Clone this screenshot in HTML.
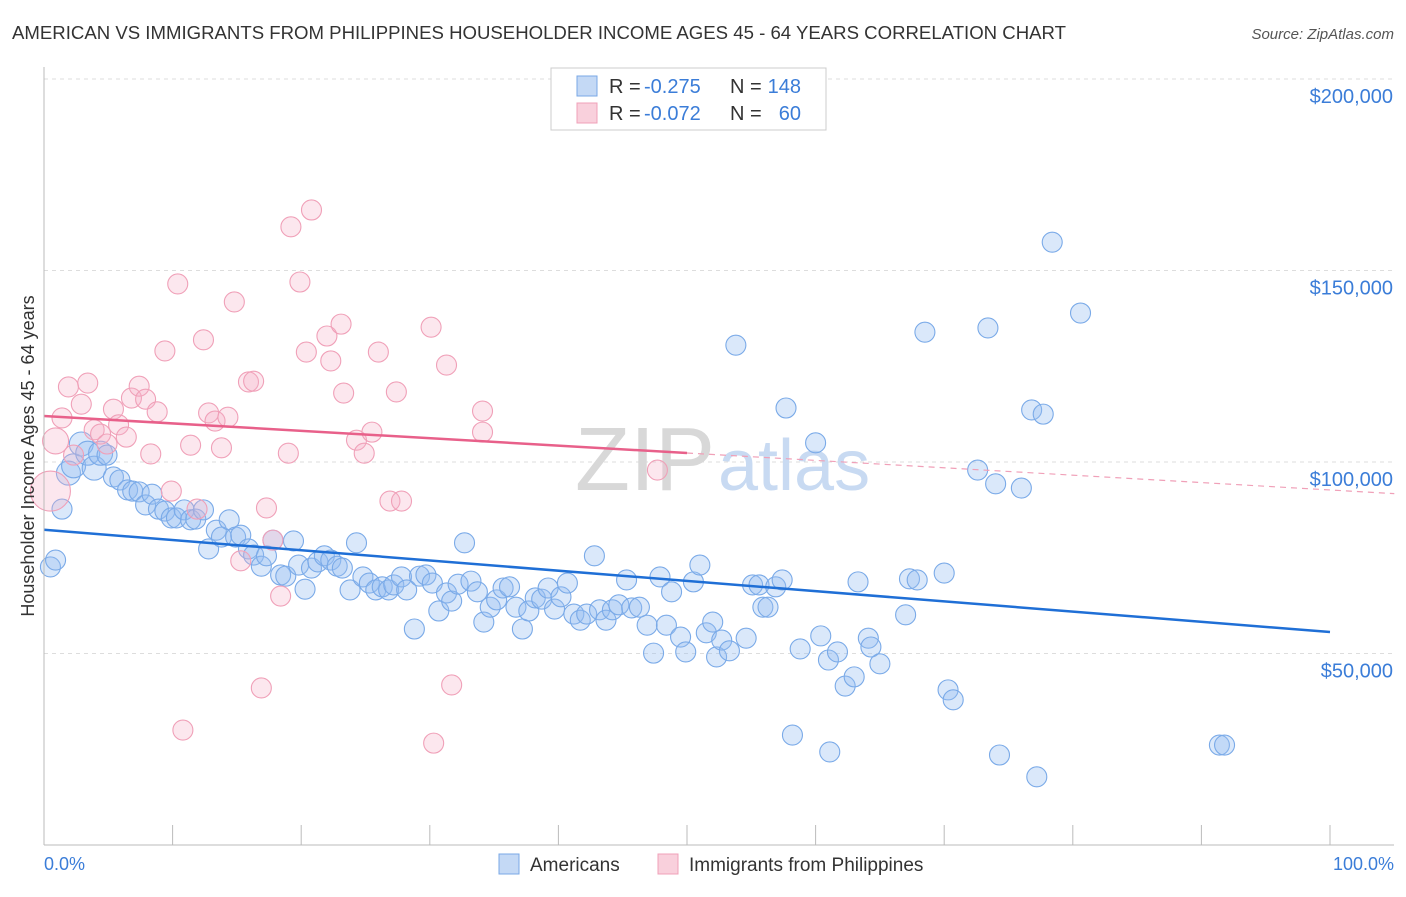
<!DOCTYPE html>
<html><head><meta charset="utf-8"><style>
body{margin:0;background:#fff;font-family:"Liberation Sans",sans-serif;}
svg text{font-family:"Liberation Sans",sans-serif;}
</style></head><body>
<svg id="chart" width="1406" height="892">
<text x="12" y="39" font-size="18" fill="#333" textLength="1054" lengthAdjust="spacingAndGlyphs">AMERICAN VS IMMIGRANTS FROM PHILIPPINES HOUSEHOLDER INCOME AGES 45 - 64 YEARS CORRELATION CHART</text>
<text x="1394" y="39" font-size="15" fill="#555" font-style="italic" text-anchor="end">Source: ZipAtlas.com</text>
<g id="grid"></g>
<text x="715" y="490" font-size="90" fill="#d8d8d8" text-anchor="end" font-family="Liberation Serif">ZIP</text>
<text x="718" y="490" font-size="72" fill="#c8daf2">atlas</text>
<g id="pts"></g>
<g id="lines"></g>
<line x1="44" y1="67" x2="44" y2="845" stroke="#bbb"/>
<line x1="44" y1="845" x2="1394" y2="845" stroke="#bbb"/>
<g id="xt"></g>
<text x="44" y="870" font-size="18" fill="#3b7dd8">0.0%</text>
<text x="1394" y="870" font-size="18" fill="#3b7dd8" text-anchor="end">100.0%</text>
<text transform="translate(34,456) rotate(-90)" font-size="18" fill="#333" text-anchor="middle">Householder Income Ages 45 - 64 years</text>
<g>
<rect x="551" y="68" width="275" height="62" fill="#fff" stroke="#ccc"/>
<rect x="577" y="76" width="20" height="20" fill="#c4d9f5" stroke="#7aa8e6"/>
<rect x="577" y="103" width="20" height="20" fill="#f9d0dc" stroke="#f0a0b8"/>
<text x="609" y="93" font-size="20" fill="#333">R =</text>
<text x="644" y="93" font-size="20" fill="#3b7dd8">-0.275</text>
<text x="730" y="93" font-size="20" fill="#333">N =</text>
<text x="801" y="93" font-size="20" fill="#3b7dd8" text-anchor="end">148</text>
<text x="609" y="120" font-size="20" fill="#333">R =</text>
<text x="644" y="120" font-size="20" fill="#3b7dd8">-0.072</text>
<text x="730" y="120" font-size="20" fill="#333">N =</text>
<text x="801" y="120" font-size="20" fill="#3b7dd8" text-anchor="end">60</text>
</g>
<rect x="499" y="854" width="20" height="20" fill="#c4d9f5" stroke="#7aa8e6"/>
<text x="530" y="871" font-size="19" fill="#333">Americans</text>
<rect x="658" y="854" width="20" height="20" fill="#f9d0dc" stroke="#f0a0b8"/>
<text x="689" y="871" font-size="19" fill="#333">Immigrants from Philippines</text>
</svg>
<script>
const yTicks=[50,100,150,200];
const yTickLabels=["$50,000","$100,000","$150,000","$200,000"];
const xTicks=[0,10,20,30,40,50,60,70,80,90,100];
const blueX=[0.5,0.9,1.4,1.9,2.3,2.9,3.4,3.9,4.4,4.9,5.4,5.9,6.5,6.9,7.4,7.9,8.4,8.9,9.4,9.9,10.3,10.9,11.4,11.8,12.4,12.8,13.4,13.8,14.4,14.9,15.3,15.9,16.3,16.9,17.3,17.8,18.4,18.8,19.4,19.8,20.3,20.8,21.3,21.8,22.3,22.8,23.2,23.8,24.3,24.8,25.3,25.8,26.3,26.8,27.2,27.8,28.2,28.8,29.2,29.7,30.2,30.7,31.3,31.7,32.2,32.7,33.2,33.7,34.2,34.7,35.2,35.7,36.2,36.7,37.2,37.7,38.2,38.7,39.2,39.7,40.2,40.7,41.2,41.7,42.2,42.8,43.2,43.7,44.2,44.7,45.3,45.7,46.3,46.9,47.4,47.9,48.4,48.8,49.5,49.9,50.5,51,51.5,52,52.3,52.7,53.3,53.8,54.6,55.1,55.6,55.9,56.3,56.9,57.4,57.7,58.2,58.8,60,60.4,61,61.1,61.7,62.3,63,63.3,64.1,64.3,65,67,67.3,67.9,68.5,70,70.3,70.7,72.6,73.4,74,74.3,76,76.8,77.2,77.7,78.4,80.6,91.4,91.8];
const blueY=[72.6,74.4,87.7,97.1,99,104.7,102.3,98.4,102.3,101.8,96.1,95.3,92.7,92.4,92.2,88.8,91.6,87.7,87.2,85.4,85.4,87.5,84.9,85.1,87.5,77.3,82.2,80.4,84.9,80.4,80.9,77.3,75.7,72.8,75.5,79.6,70.5,70.2,79.4,73.1,66.8,72.3,73.9,75.5,74.4,72.8,72.3,66.6,78.9,70,68.4,66.6,67.4,66.6,67.9,70,66.6,56.4,70.2,70.5,68.4,61.1,65.8,63.7,68.1,78.9,68.9,66.1,58.2,62.1,64,67.1,67.4,62.1,56.4,61.1,64.5,64.2,67.1,61.6,64.8,68.4,60.3,58.7,60.3,75.5,61.4,58.7,61.4,62.7,69.2,61.9,62.1,57.4,50.1,70,57.4,66.1,54.3,50.4,68.7,73.1,55.4,58.2,49.1,53.5,50.7,130.5,54,67.9,67.9,62.1,62.1,67.4,69.2,114.1,28.7,51.2,105,54.6,48.3,24.3,50.4,41.5,43.9,68.7,54,51.7,47.3,60.1,69.5,69.2,133.9,71,40.5,37.9,97.9,135,94.3,23.5,93.2,113.6,17.8,112.5,157.4,138.9,26.1,26.1];
const pinkX=[0.5,0.9,1.4,1.9,2.3,2.9,3.4,3.9,4.4,4.9,5.4,5.8,6.4,6.8,7.4,7.9,8.3,8.8,9.4,9.9,10.4,10.8,11.4,11.9,12.4,12.8,13.3,13.8,14.3,14.8,15.3,15.9,16.3,16.9,17.3,17.8,18.4,19,19.2,19.9,20.4,20.8,22,22.3,23.1,23.3,24.3,24.9,25.5,26,26.9,27.4,27.8,30.1,30.3,31.3,31.7,34.1,34.1,47.7];
const pinkY=[92.4,105.5,111.5,119.6,101.8,115.1,120.6,108.4,107.3,104.7,113.8,109.7,106.5,116.7,119.8,116.4,102.1,113.1,129,92.4,146.5,30,104.4,87.7,131.9,112.8,110.7,103.7,111.7,141.8,74.2,120.9,121.1,41,88,79.6,65,102.3,161.4,147,128.7,165.8,132.9,126.4,136,118,105.7,102.3,107.8,128.7,89.8,118.3,89.8,135.2,26.6,125.3,41.8,113.3,107.8,97.9];
const blueTrend=[82.3,55.6];
const pinkTrend=[112,92.7];
const NS="http://www.w3.org/2000/svg";
const X=p=>44+p*12.86;
const Y=v=>845-v*3.83;
function mk(t,a,parent){const e=document.createElementNS(NS,t);for(const k in a)e.setAttribute(k,a[k]);document.getElementById(parent).appendChild(e);return e;}
yTicks.forEach((v,i)=>{
 const l=mk('line',{x1:44,x2:1394,y1:Y(v),y2:Y(v),stroke:'#ddd','stroke-dasharray':'4,4'},'grid');
 
 
 const t=mk('text',{x:1393,y:Y(v)+24,'font-size':20,fill:'#3b7dd8','text-anchor':'end'},'grid');
 t.textContent=yTickLabels[i];
 
 
});
xTicks.forEach(p=>{
 const l=mk('line',{x1:X(p),x2:X(p),y1:825,y2:845,stroke:'#bbb'},'xt');
 
 
});
blueX.forEach((p,i)=>{
 const r=(p<4.5&&blueY[i]>95)?12:10;
 const c=mk('circle',{cx:X(p),cy:Y(blueY[i]),r:r,fill:'rgba(150,188,240,0.35)',stroke:'#7aaae8','stroke-width':1.1},'pts');
 
 
});
pinkX.forEach((p,i)=>{
 const r=i===0?20:(i===1?13:10);
 const c=mk('circle',{cx:X(p),cy:Y(pinkY[i]),r:r,fill:'rgba(245,175,198,0.3)',stroke:'#f0a0b8','stroke-width':1.1},'pts');
 
 
});
const tv=(tr,p)=>tr[0]+(tr[1]-tr[0])*p/100;
const bl=mk('line',{x1:X(0),y1:Y(tv(blueTrend,0)),x2:X(100),y2:Y(tv(blueTrend,100)),stroke:'#1f6fd6','stroke-width':2.5},'lines');


const pl=mk('line',{x1:X(0),y1:Y(tv(pinkTrend,0)),x2:X(50),y2:Y(tv(pinkTrend,50)),stroke:'#e8608a','stroke-width':2.5},'lines');


const pd=mk('line',{x1:X(50),y1:Y(tv(pinkTrend,50)),x2:X(105),y2:Y(tv(pinkTrend,105)),stroke:'#f0a0b8','stroke-width':1.2,'stroke-dasharray':'6,5'},'lines');


</script>
</body></html>
